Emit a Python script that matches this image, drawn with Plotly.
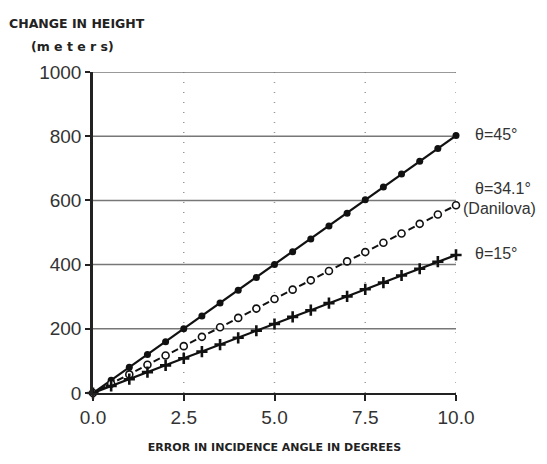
import plotly.graph_objects as go

# Error in incidence angle (degrees)
error_deg = [0.0, 0.5, 1.0, 1.5, 2.0, 2.5, 3.0, 3.5, 4.0, 4.5, 5.0,
             5.5, 6.0, 6.5, 7.0, 7.5, 8.0, 8.5, 9.0, 9.5, 10.0]

# Change in height (meters) for each incidence angle
height_45 = [0, 40, 80, 120, 160, 200, 240, 280, 320, 360, 400,
             440, 480, 520, 560, 602, 642, 682, 722, 762, 802]
height_341 = [0, 29, 58, 88, 117, 146, 175, 205, 234, 263, 293,
              322, 351, 380, 410, 439, 468, 497, 527, 556, 585]
height_15 = [0, 22, 43, 65, 86, 108, 129, 151, 172, 194, 215,
             237, 258, 280, 301, 323, 344, 366, 387, 409, 430]

x_ticks = [0, 2.5, 5.0, 7.5, 10.0]
x_tick_text = ["0.0", "2.5", "5.0", "7.5", "10.0"]
y_ticks = [0, 200, 400, 600, 800, 1000]

FONT = "Liberation Sans, Arial, Helvetica, sans-serif"
BOLD = "DejaVu Sans, Liberation Sans, sans-serif"

fig = go.Figure()

# dotted vertical guides
for xv in x_ticks[1:]:
    fig.add_shape(type="line", x0=xv, x1=xv, y0=0, y1=1000, xref="x", yref="y",
                  line=dict(color="#999999", width=1.5, dash="1px,9px"), layer="below")
# solid horizontal guides
for yv in y_ticks[1:]:
    fig.add_shape(type="line", x0=0, x1=10, y0=yv, y1=yv, xref="x", yref="y",
                  line=dict(color="#777777", width=1.5), layer="below")

fig.add_trace(go.Scatter(
    x=error_deg, y=height_45, mode="lines+markers",
    line=dict(color="#111111", width=2.2),
    marker=dict(symbol="circle", size=7, color="#111111"),
    showlegend=False, cliponaxis=False))
fig.add_trace(go.Scatter(
    x=error_deg, y=height_341, mode="lines+markers",
    line=dict(color="#111111", width=2, dash="0px,6.7px,7px,6.8px"),
    marker=dict(symbol="circle", size=7, color="white", line=dict(width=1.6, color="#111111")),
    showlegend=False, cliponaxis=False))
fig.add_trace(go.Scatter(
    x=error_deg, y=height_15, mode="lines+markers",
    line=dict(color="#111111", width=2.2),
    marker=dict(symbol="cross-thin-open", size=8, color="#111111", line=dict(width=2.6, color="#111111")),
    showlegend=False, cliponaxis=False))

label_font = dict(family=FONT, size=16, color="#333333")
fig.add_annotation(x=1.0, xref="paper", xshift=17, y=height_45[-1], yref="y", yshift=1,
                   text="θ=45°", showarrow=False, xanchor="left", font=label_font)
fig.add_annotation(x=1.0, xref="paper", xshift=17, y=height_341[-1], yref="y", yshift=17,
                   text="θ=34.1°", showarrow=False, xanchor="left", font=label_font)
fig.add_annotation(x=1.0, xref="paper", xshift=5, y=height_341[-1], yref="y", yshift=-3,
                   text="(Danilova)", showarrow=False, xanchor="left", font=label_font)
fig.add_annotation(x=1.0, xref="paper", xshift=17, y=height_15[-1], yref="y", yshift=1,
                   text="θ=15°", showarrow=False, xanchor="left", font=label_font)

title_font = dict(family=BOLD, size=12.5, color="#222222")
fig.add_annotation(x=0, xref="paper", xshift=-86, y=1, yref="paper", yshift=58,
                   text="<b>CHANGE IN HEIGHT</b>", showarrow=False, xanchor="left",
                   font=title_font)
fig.add_annotation(x=0, xref="paper", xshift=-64, y=1, yref="paper", yshift=35,
                   text="<b>(m e t e r s)</b>", showarrow=False, xanchor="left",
                   font=title_font)

fig.update_layout(
    width=547, height=464,
    margin=dict(l=93, r=91, t=72, b=67),
    paper_bgcolor="white", plot_bgcolor="white",
    font=dict(family=FONT, color="#222222"),
    xaxis=dict(
        range=[0, 10], tickvals=x_ticks, ticktext=x_tick_text,
        showgrid=False, zeroline=False,
        showline=True, linecolor="#222222", linewidth=2,
        ticks="outside", ticklen=6, tickwidth=2, tickcolor="#222222",
        tickfont=dict(size=19, color="#333333"),
        title=dict(text="<b>ERROR IN INCIDENCE ANGLE IN DEGREES</b>",
                   font=dict(family=BOLD, size=11, color="#222222"), standoff=17),
    ),
    yaxis=dict(
        range=[0, 1000], tickvals=y_ticks,
        showgrid=False, zeroline=False,
        showline=True, linecolor="#222222", linewidth=2.5,
        ticks="outside", ticklen=5, tickwidth=1.5, tickcolor="#222222",
        tickfont=dict(size=19, color="#333333"),
    ),
)

fig.write_html("out.html")
